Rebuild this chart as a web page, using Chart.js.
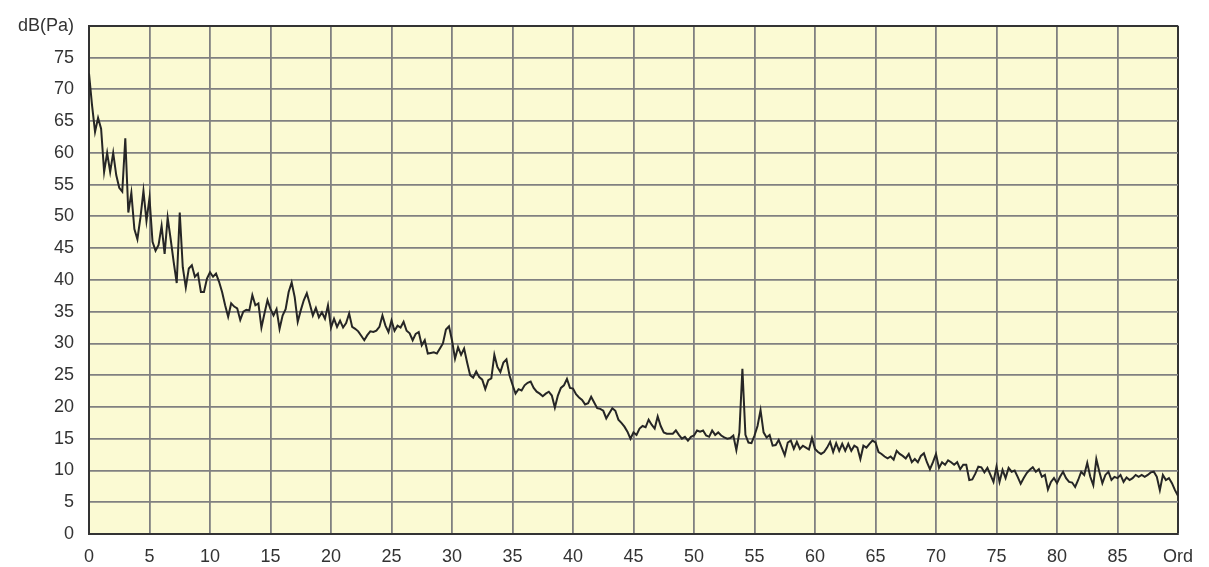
<!DOCTYPE html>
<html>
<head>
<meta charset="utf-8">
<script src="https://cdn.jsdelivr.net/npm/chart.js@4/dist/chart.umd.min.js"></script>
<style>
    html, body { margin: 0; padding: 0; background: #ffffff; }
    #wrap { width: 1209px; height: 567px; position: relative; }
</style>
</head>
<body>
<div id="wrap"><canvas id="spectrumChart"></canvas></div>
<script>
// order axis is sampled every quarter order, one array per ten orders
const ordStep = 0.25;

const dB00 = [72.5, 67.5, 63.3, 65.5, 63.8, 57, 60, 57, 60, 56.5,
    54.5, 53.9, 62.3, 50.6, 53.7, 48, 46.4, 49.8, 54, 49.3,
    52.9, 46, 44.6, 45.5, 48.5, 44.1, 49.8, 46.4, 42.8, 39.5,
    50.6, 42, 38.8, 41.8, 42.3, 40.5, 41, 38.1, 38.1, 40.2];
const dB10 = [41.2, 40.5, 41, 39.7, 38.1, 36, 34.2, 36.3, 35.8, 35.5,
    33.7, 35, 35.3, 35.2, 37.6, 36, 36.3, 32.5, 34.7, 36.8,
    35.4, 34.4, 35.4, 32.3, 34.4, 35.4, 38.1, 39.6, 37.3, 33.4,
    35.2, 36.8, 37.9, 36.2, 34.4, 35.6, 34.1, 34.9, 33.9, 36];
const dB20 = [32.5, 33.9, 32.6, 33.6, 32.5, 33.2, 34.7, 32.6, 32.3, 31.9,
    31.2, 30.5, 31.3, 31.9, 31.8, 32, 32.6, 34.4, 32.8, 31.8,
    33.6, 32, 32.8, 32.5, 33.4, 32, 31.6, 30.5, 31.5, 31.8,
    29.7, 30.5, 28.4, 28.5, 28.6, 28.4, 29.2, 30, 32.2, 32.7];
const dB30 = [30.5, 27.6, 29.4, 28.2, 29.2, 27, 25, 24.6, 25.6, 24.7,
    24.3, 22.8, 24.2, 24.5, 28.2, 26.3, 25.5, 27, 27.5, 25,
    23.5, 22.1, 22.8, 22.6, 23.4, 23.8, 24, 23, 22.4, 22.1,
    21.7, 22.1, 22.4, 21.8, 19.9, 21.8, 23, 23.4, 24.4, 23];
const dB40 = [22.9, 22, 21.5, 21.1, 20.4, 20.6, 21.6, 20.7, 19.8, 19.7,
    19.4, 18.2, 19, 19.8, 19.4, 18, 17.5, 16.9, 16.1, 15,
    16, 15.6, 16.6, 17, 16.8, 18, 17.2, 16.6, 18.5, 17,
    16, 15.8, 15.8, 15.8, 16.3, 15.6, 15, 15.3, 14.7, 15.3];
const dB50 = [15.5, 16.3, 16.1, 16.3, 15.5, 15.3, 16.3, 15.6, 16, 15.5,
    15.2, 15, 15.1, 15.5, 13.2, 16, 26, 15.6, 14.4, 14.3,
    15.5, 17, 19.5, 16, 15.2, 15.6, 13.9, 14, 14.8, 13.6,
    12.4, 14.4, 14.7, 13.4, 14.5, 13.4, 13.9, 13.6, 13.3, 15.1];
const dB60 = [13.4, 12.9, 12.6, 12.9, 13.6, 14.5, 12.9, 14.3, 13.1, 14.2,
    13.1, 14.2, 13.1, 13.9, 13.6, 11.8, 13.9, 13.6, 14.2, 14.7,
    14.4, 12.9, 12.6, 12.2, 11.9, 12.2, 11.7, 13.1, 12.6, 12.3,
    11.9, 12.6, 11.3, 11.8, 11.3, 12.3, 12.7, 11.3, 10.2, 11.3];
const dB70 = [12.6, 10.4, 11.3, 10.9, 11.6, 11.3, 10.9, 11.3, 10.2, 10.9,
    10.9, 8.5, 8.6, 9.5, 10.6, 10.5, 9.7, 10.4, 9.3, 8.2,
    10.6, 8.2, 10.1, 8.8, 10.4, 9.8, 10, 9, 7.9, 8.8,
    9.6, 10.1, 10.5, 9.8, 10.2, 9, 9.3, 7, 8.2, 8.8];
const dB80 = [8, 9, 9.8, 8.8, 8.2, 8.1, 7.4, 8.5, 9.8, 9.3,
    11.2, 9, 7.7, 11.8, 9.8, 8, 9.3, 9.8, 8.5, 9,
    8.8, 9.3, 8.2, 8.9, 8.5, 8.8, 9.3, 9, 9.3, 9,
    9.3, 9.7, 9.8, 9, 6.9, 9.3, 8.5, 8.8, 8, 6.9, 6];

const ordMax = 90;
const ordTickStep = 5;
const dbMax = 80;
const dbTickStep = 5;
const ordTitle = 'Ord';
const dbTitle = 'dB(Pa)';

const dbAll = [].concat(dB00, dB10, dB20, dB30, dB40, dB50, dB60, dB70, dB80);
const points = dbAll.map((v, i) => ({ x: i * ordStep, y: v }));

const plotBackground = {
    id: 'plotBackground',
    beforeDraw(chart) {
        const { ctx, chartArea } = chart;
        ctx.save();
        ctx.fillStyle = '#fbfad3';
        ctx.fillRect(chartArea.left, chartArea.top, chartArea.right - chartArea.left, chartArea.bottom - chartArea.top);
        ctx.restore();
    }
};

const tickFont = { family: '"Liberation Sans", Arial, sans-serif', size: 18 };

const spectrumCtx = document.getElementById('spectrumChart').getContext('2d');
const spectrumChart = new Chart(spectrumCtx, {
    type: 'line',
    data: {
        datasets: [
            {
                data: points,
                borderColor: '#262626',
                borderWidth: 2,
                pointRadius: 0,
                tension: 0,
                fill: false
            }
        ]
    },
    options: {
        responsive: true,
        maintainAspectRatio: false,
        animation: false,
        layout: { padding: { left: 0, right: 31, top: 19, bottom: 0 } },
        plugins: {
            legend: { display: false },
            tooltip: { enabled: false }
        },
        scales: {
            x: {
                type: 'linear',
                min: 0,
                max: ordMax,
                afterFit: (scale) => { scale.height = 33; },
                grid: {
                    drawTicks: false,
                    color: (c) => c.tick && c.tick.value === ordMax ? '#333333' : '#808080',
                    lineWidth: (c) => c.tick && c.tick.value === ordMax ? 2 : 1.8
                },
                border: { color: '#333333', width: 2 },
                ticks: {
                    stepSize: ordTickStep,
                    padding: 12,
                    color: '#333333',
                    font: tickFont,
                    maxRotation: 0,
                    autoSkip: false,
                    callback: (v) => v === ordMax ? ordTitle : v
                }
            },
            y: {
                min: 0,
                max: dbMax,
                afterFit: (scale) => { scale.width = 89; },
                grid: {
                    drawTicks: false,
                    color: (c) => c.tick && c.tick.value === dbMax ? '#333333' : '#808080',
                    lineWidth: (c) => c.tick && c.tick.value === dbMax ? 2 : 1.8
                },
                border: { color: '#333333', width: 2 },
                ticks: {
                    stepSize: dbTickStep,
                    padding: 15,
                    color: '#333333',
                    font: tickFont,
                    autoSkip: false,
                    callback: (v) => v === dbMax ? dbTitle : v
                }
            }
        }
    },
    plugins: [plotBackground]
});
</script>
</body>
</html>
